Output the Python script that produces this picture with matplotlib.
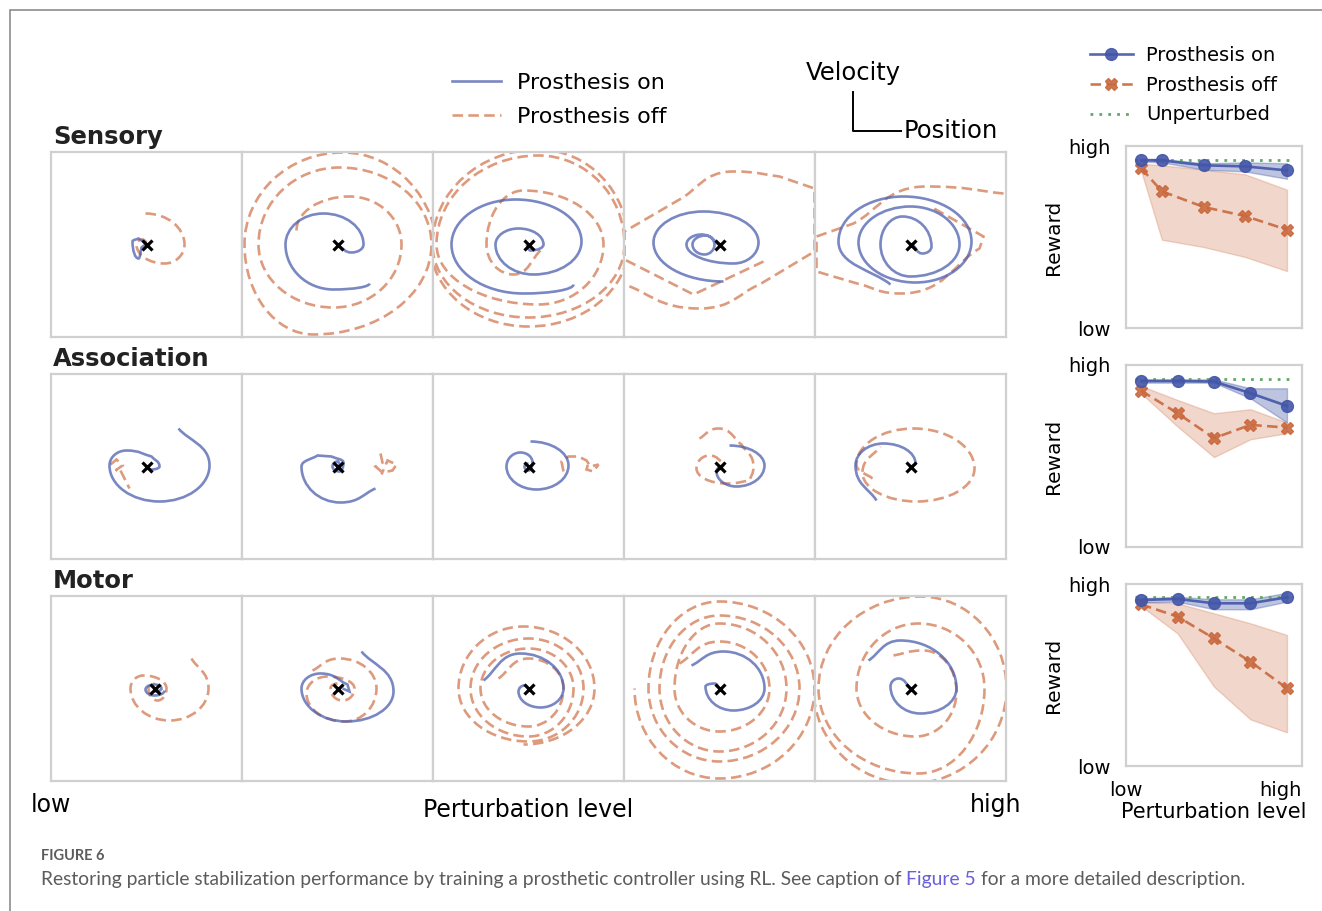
"""
Figure 6 re-drawn: phase-plane trajectories (position vs velocity) for
Sensory / Association / Motor lesions, plus reward vs perturbation level.
"""

import matplotlib
matplotlib.use("Agg")
import matplotlib.pyplot as plt
from matplotlib.path import Path
from matplotlib.patches import PathPatch, Rectangle
from matplotlib.lines import Line2D

# ─────────────────────────────────────────────
# Trajectories, one list per panel (low -> high perturbation).
# Each point: (position, velocity, kind); kind 'x' = position extreme,
# 'y' = velocity extreme, 'n' = plain vertex. Units: arbitrary, panel = ±95 x ±92.
TRAJ_SENS_ON = [
    [(0, 1, 'n'), (-8, 6, 'n'), (-14, 3, 'x'), (-8, -14, 'y'), (-5, -3, 'n'), (-1, 0, 'n')],
    [(32, -39, 'x'), (-4, -45, 'y'), (-52, 0, 'x'), (-14, 31, 'y'), (26, 0, 'x'), (14, -8, 'y'), (2, -2, 'n')],
    [(45, -40, 'x'), (-5, -49, 'y'), (-77, 0, 'x'), (-13, 45, 'y'), (53, 3, 'x'), (5, -30, 'y'),
     (-33, 0, 'x'), (-10, 16, 'y'), (15, 0, 'x'), (2, -6, 'y'), (-2, 0, 'n')],
    [(4, -37, 'y'), (-66, 2, 'x'), (-16, 33, 'y'), (39, 2, 'x'), (14, -19, 'y'), (-33, 0, 'x'),
     (-18, 10, 'y'), (-5, 0, 'x'), (-15, -10, 'y'), (-27, 0, 'x'), (-14, 9, 'y'), (-1, 0, 'n')],
    [(-20, -40, 'n'), (-72, 3, 'x'), (-7, 48, 'y'), (61, 3, 'x'), (5, -38, 'y'), (-52, 2, 'x'),
     (0, 38, 'y'), (49, 0, 'x'), (0, -32, 'y'), (-30, 0, 'x'), (-8, 28, 'y'), (21, -2, 'x'),
     (12, -9, 'y'), (2, 0, 'n')],
]
TRAJ_SENS_OFF = [
    [(-1, 31, 'y'), (38, 0, 'x'), (18, -19, 'y'), (-10, 0, 'x'), (-4, 5, 'y'), (0, 2, 'n')],
    [(-41, 14, 'x'), (12, 48, 'y'), (64, 0, 'x'), (-4, -63, 'y'), (-79, 0, 'x'), (2, 77, 'y'),
     (94, 0, 'x'), (-24, -90, 'y'), (-93, 0, 'x'), (5, 92, 'y'), (100, -10, 'x')],
    [(12, -6, 'n'), (-15, -30, 'y'), (-42, 0, 'x'), (-5, 54, 'y'), (75, 0, 'x'), (10, -60, 'y'),
     (-92, 0, 'x'), (10, 89, 'y'), (96, 0, 'x'), (0, -73, 'y'), (-96, 0, 'x'), (10, 95, 'y'),
     (100, 0, 'x'), (0, -82, 'y'), (-98, 0, 'x')],
    [(44, -17, 'n'), (-26, -50, 'n'), (-95, -15, 'n'), (-95, 13, 'n'), (-40, 45, 'n'), (14, 73, 'y'),
     (60, 68, 'n'), (95, 56, 'n'), (95, -7, 'n'), (40, -40, 'n'), (-20, -64, 'y'), (-95, -40, 'n')],
    [(93, 51, 'n'), (16, 58, 'y'), (-57, 21, 'n'), (-94, 8, 'n'), (-94, -27, 'n'), (-50, -40, 'n'),
     (-10, -49, 'y'), (69, -4, 'n'), (73, 8, 'n'), (20, 38, 'n')],
]
TRAJ_ASSOC_ON = [
    [(32, 38, 'n'), (63, 1, 'x'), (13, -35, 'y'), (-37, 1, 'x'), (-20, 16, 'y'), (5, 10, 'n'),
     (13, 0, 'x'), (5, -3, 'y'), (0, 0, 'n')],
    [(38, -22, 'n'), (3, -36, 'y'), (-36, 0, 'x'), (-20, 11, 'n'), (-6, 10, 'n'), (6, 4, 'x'),
     (2, -5, 'y'), (-5, 0, 'x'), (0, 5, 'y'), (3, 0, 'n')],
    [(2, 25, 'y'), (40, 1, 'x'), (8, -23, 'y'), (-22, 0, 'x'), (-8, 14, 'y'), (4, 4, 'x'),
     (0, -4, 'y'), (-4, 0, 'x'), (0, 3, 'y')],
    [(10, 21, 'y'), (45, 1, 'x'), (17, -20, 'y'), (-3, -5, 'x'), (0, 0, 'n')],
    [(-34, -34, 'n'), (-55, 1, 'x'), (-27, 23, 'y'), (5, 3, 'x'), (1, 0, 'n')],
]
TRAJ_ASSOC_OFF = [
    [(-36, 2, 'n'), (-30, 7, 'n'), (-24, 1, 'n'), (-31, -4, 'n'), (-27, -2, 'n'), (-22, -12, 'n'),
     (-17, -22, 'n')],
    [(43, 13, 'n'), (45, 4, 'n'), (38, 0, 'n'), (45, -6, 'n'), (55, -4, 'n'), (59, 2, 'n'),
     (50, 6, 'n'), (44, -8, 'n')],
    [(35, -5, 'n'), (33, 5, 'n'), (40, 10, 'n'), (50, 10, 'n'), (58, 6, 'n'), (62, 0, 'n'),
     (70, 2, 'n'), (65, -5, 'n'), (58, -3, 'n'), (60, 4, 'n')],
    [(-20, 28, 'n'), (-1, 38, 'y'), (22, 22, 'n'), (34, 0, 'x'), (30, -14, 'n'), (7, -17, 'y'),
     (-23, -2, 'x'), (-10, 11, 'y'), (5, 2, 'n'), (0, -3, 'n')],
    [(-38, -12, 'n'), (-54, 2, 'x'), (3, 38, 'y'), (64, -2, 'x'), (6, -35, 'y'), (-48, -6, 'x'),
     (-30, 20, 'n')],
]
TRAJ_MOTOR_ON = [
    [(18, -2, 'x'), (8, -7, 'y'), (-1, -1, 'x'), (8, 4, 'y'), (15, 0, 'x'), (8, -3, 'y')],
    [(24, 37, 'n'), (56, -3, 'x'), (9, -33, 'y'), (-36, 0, 'x'), (-17, 15, 'y'), (10, 4, 'n'),
     (12, -3, 'n'), (5, 0, 'n')],
    [(-45, 8, 'n'), (-8, 35, 'y'), (35, 0, 'x'), (12, -19, 'y'), (-10, -3, 'x'), (-4, 3, 'y'), (0, 0, 'n')],
    [(-28, 23, 'n'), (4, 37, 'y'), (45, 0, 'x'), (14, -22, 'y'), (-14, 2, 'x'), (-5, 5, 'y'), (0, 0, 'n')],
    [(-42, 28, 'n'), (-10, 48, 'y'), (46, 0, 'x'), (10, -25, 'y'), (-20, 2, 'x'), (-12, 10, 'y'), (0, 0, 'n')],
]
TRAJ_MOTOR_OFF = [
    [(45, 30, 'n'), (62, 0, 'x'), (23, -32, 'y'), (-16, 0, 'x'), (-3, 13, 'y'), (20, 0, 'x'),
     (11, -12, 'y'), (2, 0, 'x'), (8, 5, 'y')],
    [(-25, 18, 'n'), (2, 30, 'y'), (39, 0, 'x'), (7, -33, 'y'), (-31, -5, 'x'), (-10, 12, 'y'),
     (17, 0, 'x'), (5, -12, 'y'), (-7, 0, 'x'), (0, 5, 'y')],
    [(-30, 10, 'n'), (0, 30, 'y'), (35, 0, 'x'), (0, -38, 'y'), (-48, 0, 'x'), (0, 40, 'y'),
     (45, 0, 'x'), (0, -48, 'y'), (-58, 0, 'x'), (0, 50, 'y'), (55, 0, 'x'), (0, -53, 'y'),
     (-70, 0, 'x'), (-5, 62, 'y'), (66, 0, 'x'), (-5, -56, 'y')],
    [(-40, 25, 'n'), (0, 47, 'y'), (50, 0, 'x'), (0, -43, 'y'), (-45, 0, 'x'), (0, 65, 'y'),
     (67, 0, 'x'), (0, -63, 'y'), (-60, 0, 'x'), (0, 73, 'y'), (80, 0, 'x'), (0, -73, 'y'),
     (-71, 0, 'x'), (0, 87, 'y'), (95, 0, 'x'), (0, -90, 'y'), (-85, 0, 'x')],
    [(-17, 33, 'n'), (13, 38, 'y'), (46, -3, 'x'), (5, -48, 'y'), (-54, 0, 'x'), (8, 65, 'y'),
     (74, 0, 'x'), (8, -85, 'y'), (-92, 0, 'x'), (10, 92, 'y'), (96, 0, 'x'), (0, -95, 'y'),
     (-97, 0, 'x')],
]
# target (the black cross) per panel
TARGET_SENS = [(0, 0)] * 5
TARGET_ASSOC = [(0, 0)] * 5
TARGET_MOTOR = [(8, 0), (0, 0), (0, 0), (0, 0), (0, 0)]

# ─────────────────────────────────────────────
# Reward vs perturbation level (0 = low, 1 = high reward)
LEVELS_SENS = [0, 0.5, 1.5, 2.5, 3.5]
LEVELS_ASSOC = [0, 1, 2, 3, 4]
LEVELS_MOTOR = [0, 1, 2, 3, 4]

REW_SENS_ON = [0.921, 0.921, 0.894, 0.888, 0.866]
REW_SENS_ON_LO = [0.915, 0.910, 0.870, 0.860, 0.820]
REW_SENS_ON_HI = [0.930, 0.930, 0.905, 0.910, 0.905]
REW_SENS_OFF = [0.879, 0.751, 0.665, 0.615, 0.540]
REW_SENS_OFF_LO = [0.866, 0.485, 0.445, 0.390, 0.313]
REW_SENS_OFF_HI = [0.903, 0.894, 0.870, 0.844, 0.760]

REW_ASSOC_ON = [0.912, 0.912, 0.909, 0.845, 0.775]
REW_ASSOC_ON_LO = [0.903, 0.903, 0.903, 0.817, 0.684]
REW_ASSOC_ON_HI = [0.921, 0.921, 0.921, 0.872, 0.872]
REW_ASSOC_OFF = [0.859, 0.735, 0.598, 0.671, 0.656]
REW_ASSOC_OFF_LO = [0.845, 0.662, 0.494, 0.592, 0.625]
REW_ASSOC_OFF_HI = [0.885, 0.808, 0.735, 0.757, 0.684]

REW_MOTOR_ON = [0.912, 0.918, 0.894, 0.894, 0.927]
REW_MOTOR_ON_LO = [0.899, 0.903, 0.861, 0.861, 0.903]
REW_MOTOR_ON_HI = [0.921, 0.930, 0.916, 0.916, 0.952]
REW_MOTOR_OFF = [0.888, 0.821, 0.701, 0.573, 0.427]
REW_MOTOR_OFF_LO = [0.879, 0.729, 0.436, 0.256, 0.185]
REW_MOTOR_OFF_HI = [0.903, 0.894, 0.839, 0.784, 0.720]

UNPERTURBED = [0.925, 0.923, 0.927]

ROW_NAMES = ["Sensory", "Association", "Motor"]

# ─────────────────────────────────────────────
BLUE = "#4c5fae"
ORANGE = "#cf7046"
BLUE_D = "#4356a8"
ORANGE_D = "#c9693f"
GREEN = "#62a866"
SPINE = "#d0d0d0"
DASH = (0, (4, 2))
K = 0.5523

W, H = 1322, 911
fig = plt.figure(figsize=(W / 100, H / 100), dpi=100)


def fx(px):
    return px / W


def fy(py):
    return 1 - py / H


def rect(x0, y0, w, h):
    return [fx(x0), fy(y0 + h), w / W, h / H]


def ctrl(p, kind, q):
    if kind == 'x':
        return (p[0], p[1] + K * (q[1] - p[1]))
    if kind == 'y':
        return (p[0] + K * (q[0] - p[0]), p[1])
    return (p[0] + (q[0] - p[0]) / 3, p[1] + (q[1] - p[1]) / 3)


def traj_path(pts):
    verts = [pts[0][:2]]
    codes = [Path.MOVETO]
    for a, b in zip(pts[:-1], pts[1:]):
        verts += [ctrl(a[:2], a[2], b[:2]), ctrl(b[:2], b[2], a[:2]), b[:2]]
        codes += [Path.CURVE4] * 3
    return Path(verts, codes)


def style_spines(ax):
    for s in ax.spines.values():
        s.set_color(SPINE)
        s.set_linewidth(1.6)


# ─────────────────────────────────────────────
# trajectory panels
COL_X = [51, 242, 433, 624, 815]
ROW_Y = [152, 374, 596]
rows = [
    (TRAJ_SENS_ON, TRAJ_SENS_OFF, TARGET_SENS),
    (TRAJ_ASSOC_ON, TRAJ_ASSOC_OFF, TARGET_ASSOC),
    (TRAJ_MOTOR_ON, TRAJ_MOTOR_OFF, TARGET_MOTOR),
]
for r, (on_list, off_list, targets) in enumerate(rows):
    fig.text(fx(53), fy(ROW_Y[r] - 8), ROW_NAMES[r], fontsize=17.5, fontweight="bold",
             color="#222222", va="baseline")
    for c in range(5):
        ax = fig.add_axes(rect(COL_X[c], ROW_Y[r], 191, 185))
        ax.set_xlim(-95.5, 95.5)
        ax.set_ylim(-92.5, 92.5)
        ax.set_xticks([])
        ax.set_yticks([])
        style_spines(ax)
        ax.add_patch(PathPatch(traj_path(off_list[c]), fill=False, edgecolor=ORANGE,
                               lw=1.9, linestyle=DASH, alpha=0.7))
        ax.add_patch(PathPatch(traj_path(on_list[c]), fill=False, edgecolor=BLUE,
                               lw=1.9, alpha=0.75))
        ax.plot(*targets[c], marker="x", color="black", ms=7, mew=2.3, zorder=5)

# legend + axis glyph above the trajectory grid
fig.legend(handles=[Line2D([], [], color=BLUE, lw=1.9, alpha=0.75),
                    Line2D([], [], color=ORANGE, lw=1.9, ls=DASH, alpha=0.7)],
           labels=["Prosthesis on", "Prosthesis off"], loc="upper left",
           bbox_to_anchor=(fx(452), fy(73)), frameon=False, fontsize=16,
           handlelength=2.2, handletextpad=0.72, labelspacing=0.62, borderpad=0,
           borderaxespad=0)
fig.text(fx(853), fy(73), "Velocity", ha="center", va="center", fontsize=17.5)
fig.add_artist(Line2D([fx(853), fx(853), fx(901)], [fy(92), fy(131), fy(131)],
                      color="black", lw=1.4))
fig.text(fx(904), fy(131), "Position", ha="left", va="center", fontsize=17.5)

fig.text(fx(51), fy(805), "low", ha="center", va="center", fontsize=17)
fig.text(fx(996), fy(805), "high", ha="center", va="center", fontsize=17)
fig.text(fx(528), fy(810), "Perturbation level", ha="center", va="center", fontsize=17)

# ─────────────────────────────────────────────
# reward panels
REW_Y = [146, 365, 584]
rew_rows = [
    (LEVELS_SENS, REW_SENS_ON, REW_SENS_ON_LO, REW_SENS_ON_HI, REW_SENS_OFF, REW_SENS_OFF_LO, REW_SENS_OFF_HI),
    (LEVELS_ASSOC, REW_ASSOC_ON, REW_ASSOC_ON_LO, REW_ASSOC_ON_HI, REW_ASSOC_OFF, REW_ASSOC_OFF_LO, REW_ASSOC_OFF_HI),
    (LEVELS_MOTOR, REW_MOTOR_ON, REW_MOTOR_ON_LO, REW_MOTOR_ON_HI, REW_MOTOR_OFF, REW_MOTOR_OFF_LO, REW_MOTOR_OFF_HI),
]
for r, (lv, on, on_lo, on_hi, off, off_lo, off_hi) in enumerate(rew_rows):
    ax = fig.add_axes(rect(1126, REW_Y[r], 176, 182))
    style_spines(ax)
    ax.fill_between(lv, off_lo, off_hi, facecolor=ORANGE, alpha=0.28, edgecolor=ORANGE, lw=1)
    ax.fill_between(lv, on_lo, on_hi, facecolor=BLUE_D, alpha=0.35, edgecolor=BLUE_D, lw=1)
    ax.axhline(UNPERTURBED[r], xmin=0.05, xmax=0.955, color=GREEN, lw=2, ls=(0, (1, 2.2)))
    ax.plot(lv, off, color=ORANGE_D, lw=1.9, ls=DASH, marker="X", ms=8.5, alpha=0.9)
    ax.plot(lv, on, color=BLUE_D, lw=1.9, marker="o", ms=8.5, alpha=0.9)
    span = lv[-1] - lv[0]
    ax.set_xlim(lv[0] - 0.103 * span, lv[-1] + 0.103 * span)
    ax.set_ylim(0, 1)
    ax.set_yticks([0, 1])
    ax.set_yticklabels(["low", "high"])
    ax.set_ylabel("Reward", fontsize=14.5, labelpad=4)
    ax.tick_params(length=0, pad=11, labelsize=14)
    if r == 2:
        ax.set_xticks(ax.get_xlim())
        ax.set_xticklabels(["low", "high"])
        ax.get_xticklabels()[1].set_ha("right")
        ax.tick_params(axis="x", pad=11)
        ax.set_xlabel("Perturbation level", fontsize=15, labelpad=1)
    else:
        ax.set_xticks([])

fig.legend(handles=[Line2D([], [], color=BLUE_D, lw=1.9, marker="o", ms=8.5, alpha=0.9),
                    Line2D([], [], color=ORANGE_D, lw=1.9, ls=DASH, marker="X", ms=8.5, alpha=0.9),
                    Line2D([], [], color=GREEN, lw=2, ls=(0, (1, 2.2)))],
           labels=["Prosthesis on", "Prosthesis off", "Unperturbed"], loc="upper left",
           bbox_to_anchor=(fx(1090), fy(46)), frameon=False, fontsize=14,
           handlelength=2.2, handletextpad=0.7, labelspacing=0.55, borderpad=0,
           borderaxespad=0)

# ─────────────────────────────────────────────
# page frame and caption
fig.add_artist(Rectangle((fx(10), -0.1), 1.2, fy(10) + 0.1, transform=fig.transFigure,
                         fill=False, edgecolor="#8c8c8c", lw=1.2))
fig.text(fx(41), fy(856), "FIGURE 6", fontsize=10.5, family="Lato", fontweight="bold",
         color="#5c5c5c", va="center")
t1 = fig.text(fx(41), fy(879), "Restoring particle stabilization performance by training a "
              "prosthetic controller using RL. See caption of", fontsize=13.9, family="Lato",
              color="#5c5c5c", va="center")
t2 = plt.annotate("Figure 5", xy=(1, 0), xycoords=t1, xytext=(3.6, 0), textcoords="offset points",
                  fontsize=13.9, family="Lato", color="#6a5fd8", va="bottom")
plt.annotate("for a more detailed description.", xy=(1, 0), xycoords=t2, xytext=(3.6, 0),
             textcoords="offset points", fontsize=13.9, family="Lato", color="#5c5c5c",
             va="bottom")

fig.savefig("out.png", dpi=100)
